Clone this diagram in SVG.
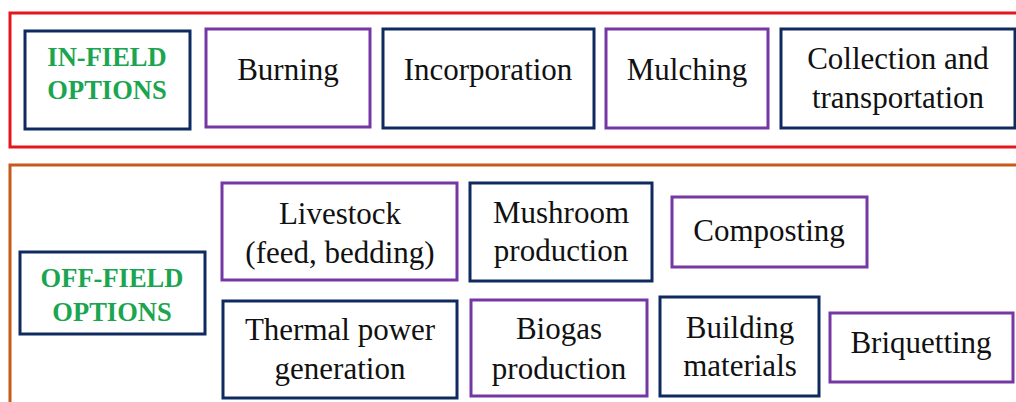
<svg xmlns="http://www.w3.org/2000/svg" width="1016" height="402" viewBox="0 0 1016 402">
<style>
.frame{fill:none;stroke-width:3}
.nv{fill:#fff;stroke:#0f2a5e;stroke-width:3}
.pu{fill:#fff;stroke:#7537a3;stroke-width:3}
.t{font-family:'Liberation Serif','Times New Roman',Times,'DejaVu Serif',serif;font-size:31px;fill:#111;text-anchor:middle}
.h{font-family:'Liberation Serif','Times New Roman',Times,'DejaVu Serif',serif;font-size:26.5px;font-weight:bold;fill:#1ba550;text-anchor:middle}
</style>
<rect width="1016" height="402" fill="#fff"/>
<g id="in-field-panel"><rect class="frame" x="10" y="13" width="1020" height="134" stroke="#e5151c"/></g>
<g id="off-field-panel"><rect class="frame" x="10" y="165" width="1020" height="250" stroke="#c55a1a"/></g>
<g id="connectors"></g>
<g id="in-field"><rect class="nv" x="25" y="31" width="165" height="98"/><text class="h" x="107" y="66">IN-FIELD</text><text class="h" x="107" y="99">OPTIONS</text></g>
<g id="burning"><rect class="pu" x="206" y="29" width="164" height="98"/><text class="t" x="288" y="80">Burning</text></g>
<g id="incorporation"><rect class="nv" x="383" y="29" width="211" height="99"/><text class="t" x="488" y="80">Incorporation</text></g>
<g id="mulching"><rect class="pu" x="606" y="29" width="162" height="99"/><text class="t" x="687" y="80">Mulching</text></g>
<g id="collection"><rect class="nv" x="781" y="29" width="234" height="99"/><text class="t" x="898" y="69">Collection and</text><text class="t" x="898" y="108">transportation</text></g>
<g id="off-field"><rect class="nv" x="20" y="252" width="185" height="82"/><text class="h" x="112" y="287">OFF-FIELD</text><text class="h" x="112" y="321">OPTIONS</text></g>
<g id="livestock"><rect class="pu" x="222" y="183" width="235" height="97"/><text class="t" x="340" y="224">Livestock</text><text class="t" x="340" y="263">(feed, bedding)</text></g>
<g id="mushroom"><rect class="nv" x="470" y="183" width="182" height="98"/><text class="t" x="561" y="223">Mushroom</text><text class="t" x="561" y="261">production</text></g>
<g id="composting"><rect class="pu" x="672" y="197" width="195" height="70"/><text class="t" x="769" y="241">Composting</text></g>
<g id="thermal"><rect class="nv" x="223" y="301" width="234" height="97"/><text class="t" x="340" y="340">Thermal power</text><text class="t" x="340" y="379">generation</text></g>
<g id="biogas"><rect class="pu" x="471" y="300" width="176" height="96"/><text class="t" x="559" y="339">Biogas</text><text class="t" x="559" y="379">production</text></g>
<g id="building"><rect class="nv" x="660" y="297" width="159" height="99"/><text class="t" x="740" y="338">Building</text><text class="t" x="740" y="376">materials</text></g>
<g id="briquetting"><rect class="pu" x="830" y="313" width="183" height="69"/><text class="t" x="921" y="353">Briquetting</text></g>
</svg>
